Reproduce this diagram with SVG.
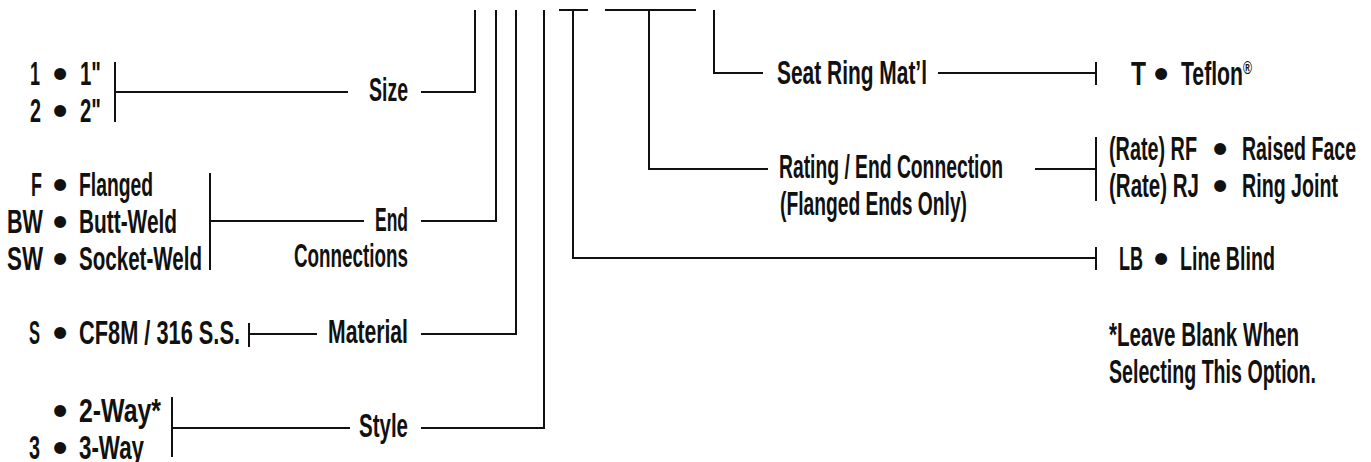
<svg xmlns="http://www.w3.org/2000/svg" width="1371" height="462" viewBox="0 0 1371 462">
<style>
text{font-family:"Liberation Sans Narrow","Liberation Sans",Arial,sans-serif;font-size:33px;font-weight:bold;fill:#111;}
text.b{font-family:"DejaVu Sans",sans-serif;font-size:34px;font-weight:bold;}
.ln{stroke:#111;stroke-width:2;fill:none;stroke-linecap:butt;}
</style>
<rect width="1371" height="462" fill="#fff"/>
<g id="connectors" class="ln">
<path d="M115 62V122M115 92H348M421 92H475V10"/>
<path d="M210 173V270M210 221H364M421 221H496V10"/>
<path d="M249 323V347M249 334H317M421 334H516V10"/>
<path d="M172 397V457M172 428H350M421 428H544V10"/>
<path d="M559 10H588M573 10V258H1096M1096 247V270"/>
<path d="M605 10H696M649 10V169H768M1035 169H1096M1096 137V201"/>
<path d="M714 10V73H763M938 73H1096M1096 62V85"/>
</g>
<g id="size-options">
<text x="30" y="85" textLength="10" lengthAdjust="spacingAndGlyphs">1</text>
<text class="b" x="60" y="87" text-anchor="middle">•</text>
<text x="80" y="85" textLength="21" lengthAdjust="spacingAndGlyphs">1"</text>
<text x="30" y="122" textLength="11" lengthAdjust="spacingAndGlyphs">2</text>
<text class="b" x="60" y="124" text-anchor="middle">•</text>
<text x="80" y="122" textLength="21" lengthAdjust="spacingAndGlyphs">2"</text>
</g>
<g id="size"><text x="369" y="101" textLength="39" lengthAdjust="spacingAndGlyphs">Size</text></g>
<g id="end-options">
<text x="31" y="196" textLength="11" lengthAdjust="spacingAndGlyphs">F</text>
<text class="b" x="60" y="198" text-anchor="middle">•</text>
<text x="79" y="196" textLength="74" lengthAdjust="spacingAndGlyphs">Flanged</text>
<text x="7" y="233" textLength="36" lengthAdjust="spacingAndGlyphs">BW</text>
<text class="b" x="60" y="235" text-anchor="middle">•</text>
<text x="79" y="233" textLength="98" lengthAdjust="spacingAndGlyphs">Butt-Weld</text>
<text x="7" y="270" textLength="36" lengthAdjust="spacingAndGlyphs">SW</text>
<text class="b" x="60" y="272" text-anchor="middle">•</text>
<text x="79" y="270" textLength="123" lengthAdjust="spacingAndGlyphs">Socket-Weld</text>
</g>
<g id="end-connections">
<text x="375" y="231" textLength="33" lengthAdjust="spacingAndGlyphs">End</text>
<text x="294" y="267" textLength="114" lengthAdjust="spacingAndGlyphs">Connections</text>
</g>
<g id="material-options">
<text x="29" y="344" textLength="11" lengthAdjust="spacingAndGlyphs">S</text>
<text class="b" x="60" y="346" text-anchor="middle">•</text>
<text x="79" y="344" textLength="161" lengthAdjust="spacingAndGlyphs">CF8M / 316 S.S.</text>
</g>
<g id="material"><text x="328" y="343" textLength="80" lengthAdjust="spacingAndGlyphs">Material</text></g>
<g id="style-options">
<text class="b" x="60" y="424" text-anchor="middle">•</text>
<text x="79" y="422" textLength="82" lengthAdjust="spacingAndGlyphs">2-Way*</text>
<text x="29" y="459" textLength="11" lengthAdjust="spacingAndGlyphs">3</text>
<text class="b" x="60" y="461" text-anchor="middle">•</text>
<text x="79" y="459" textLength="65" lengthAdjust="spacingAndGlyphs">3-Way</text>
</g>
<g id="style"><text x="359" y="437" textLength="49" lengthAdjust="spacingAndGlyphs">Style</text></g>
<g id="seat-ring"><text x="777" y="84" textLength="150" lengthAdjust="spacingAndGlyphs">Seat Ring Mat’l</text></g>
<g id="teflon">
<text x="1131" y="85" textLength="15" lengthAdjust="spacingAndGlyphs">T</text>
<text class="b" x="1161" y="87" text-anchor="middle">•</text>
<text x="1181" y="85" textLength="71" lengthAdjust="spacingAndGlyphs">Teflon<tspan font-size="19" dy="-11">®</tspan></text>
</g>
<g id="rating">
<text x="779" y="178" textLength="224" lengthAdjust="spacingAndGlyphs">Rating / End Connection</text>
<text x="780" y="215" textLength="187" lengthAdjust="spacingAndGlyphs">(Flanged Ends Only)</text>
</g>
<g id="rating-options">
<text x="1109" y="160" textLength="88" lengthAdjust="spacingAndGlyphs">(Rate) RF</text>
<text class="b" x="1220" y="162" text-anchor="middle">•</text>
<text x="1242" y="160" textLength="114" lengthAdjust="spacingAndGlyphs">Raised Face</text>
<text x="1109" y="197" textLength="90" lengthAdjust="spacingAndGlyphs">(Rate) RJ</text>
<text class="b" x="1220" y="199" text-anchor="middle">•</text>
<text x="1242" y="197" textLength="96" lengthAdjust="spacingAndGlyphs">Ring Joint</text>
</g>
<g id="line-blind">
<text x="1119" y="270" textLength="24" lengthAdjust="spacingAndGlyphs">LB</text>
<text class="b" x="1161" y="272" text-anchor="middle">•</text>
<text x="1180" y="270" textLength="95" lengthAdjust="spacingAndGlyphs">Line Blind</text>
</g>
<g id="note">
<text x="1109" y="346" textLength="190" lengthAdjust="spacingAndGlyphs">*Leave Blank When</text>
<text x="1109" y="383" textLength="207" lengthAdjust="spacingAndGlyphs">Selecting This Option.</text>
</g>
</svg>
